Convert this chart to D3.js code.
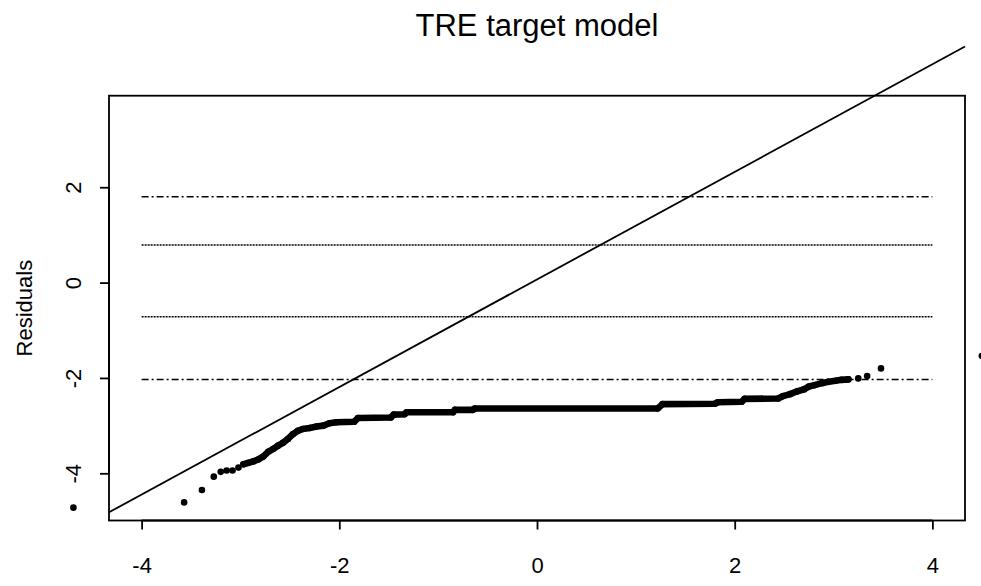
<!DOCTYPE html>
<html>
<head>
<meta charset="utf-8">
<script src="https://cdn.jsdelivr.net/npm/d3@7"></script>
<style>
	body { margin: 0; background: #fff; }
	svg { display: block; font-family: "Liberation Sans", Arial, sans-serif; }
</style>
</head>
<body>
<div id="chart"></div>
<script>
// theoretical quantiles / residuals (sorted)
// isolated points in the lower tail
const lowTailQ = [-4.69, -3.57, -3.39, -3.27, -3.20, -3.14, -3.08, -3.02];
const lowTailR = [-4.72, -4.61, -4.35, -4.07, -3.97, -3.94, -3.94, -3.88];
// the dense band of overlapping points
const bandQ = [-2.97, -2.92, -2.87, -2.82, -2.77, -2.72, -2.67, -2.62, -2.57, -2.52, -2.47, -2.42, -2.37,
	-2.30, -2.23, -2.16, -2.10, -2.03, -1.85, -1.81, -1.48, -1.45, -1.34, -1.32, -0.85, -0.83,
	-0.65, -0.63, 1.22, 1.27, 1.80, 1.83, 2.07, 2.10, 2.44, 2.49, 2.56, 2.62, 2.70, 2.75,
	2.81, 2.88, 2.95, 3.02, 3.08, 3.15];
const bandR = [-3.81, -3.78, -3.75, -3.71, -3.65, -3.55, -3.49, -3.42, -3.36, -3.28, -3.18, -3.11, -3.07,
	-3.05, -3.02, -3.00, -2.95, -2.93, -2.92, -2.84, -2.83, -2.77, -2.76, -2.72, -2.72, -2.67,
	-2.67, -2.64, -2.64, -2.55, -2.54, -2.51, -2.50, -2.44, -2.43, -2.38, -2.34, -2.29, -2.24, -2.18,
	-2.15, -2.11, -2.08, -2.06, -2.04, -2.03];
// isolated points in the upper tail
const highTailQ = [3.25, 3.34, 3.48, 4.50];
const highTailR = [-2.01, -1.96, -1.80, -1.54];

// horizontal reference lines
const refLevels = [1.80, 0.79, -0.715, -2.03];
const refStyles = ["dashdot", "dotted", "dotted", "dashdot"];
const refFrom = -4, refTo = 4;

// abline(a, b)
const ablineA = 0.066;
const ablineB = 1.128;

const xTicks = [-4, -2, 0, 2, 4];
const yTicks = [-4, -2, 0, 2];
const titleText = "TRE target model";
const yLabel = "Residuals";

const width = 981, height = 586;
const plot = { left: 109, right: 965, top: 95.7, bottom: 520.5 };
const font = "Liberation Sans, Arial, sans-serif";

const svg = d3.select("#chart").append("svg")
	.attr("width", width)
	.attr("height", height);

const x = d3.scaleLinear().domain([-4.33, 4.33]).range([plot.left, plot.right]);
const y = d3.scaleLinear().domain([-4.99, 3.92]).range([plot.bottom, plot.top]);

const dashes = { dashdot: "7,3,2,3", dotted: "2,1" };

// reference lines
svg.append("g").selectAll("line")
	.data(refLevels)
	.join("line")
	.attr("x1", x(refFrom))
	.attr("x2", x(refTo))
	.attr("y1", d => y(d))
	.attr("y2", d => y(d))
	.attr("stroke", "#000")
	.attr("stroke-width", 1.5)
	.attr("stroke-dasharray", (d, i) => dashes[refStyles[i]]);

// abline across the x range of the plot (not clipped vertically, like xpd=TRUE)
const xd = x.domain();
svg.append("line")
	.attr("x1", x(xd[0]))
	.attr("y1", y(ablineA + ablineB * xd[0]))
	.attr("x2", x(xd[1]))
	.attr("y2", y(ablineA + ablineB * xd[1]))
	.attr("stroke", "#000")
	.attr("stroke-width", 1.8);

// band: thick round path so the overlapping dots merge
const band = bandQ.map((q, i) => [q, bandR[i]]);
svg.append("path")
	.datum(band)
	.attr("d", d3.line().x(d => x(d[0])).y(d => y(d[1])))
	.attr("fill", "none")
	.attr("stroke", "#000")
	.attr("stroke-width", 6.6)
	.attr("stroke-linejoin", "round")
	.attr("stroke-linecap", "round");

const pts = lowTailQ.map((q, i) => [q, lowTailR[i]])
	.concat(band)
	.concat(highTailQ.map((q, i) => [q, highTailR[i]]));

svg.append("g").selectAll("circle")
	.data(pts)
	.join("circle")
	.attr("cx", d => x(d[0]))
	.attr("cy", d => y(d[1]))
	.attr("r", 3.3)
	.attr("fill", "#000");

// box
svg.append("rect")
	.attr("x", plot.left)
	.attr("y", plot.top)
	.attr("width", plot.right - plot.left)
	.attr("height", plot.bottom - plot.top)
	.attr("fill", "none")
	.attr("stroke", "#000")
	.attr("stroke-width", 1.8);

// axes
const xAxis = svg.append("g")
	.attr("transform", `translate(0,${ plot.bottom })`)
	.call(d3.axisBottom(x).tickValues(xTicks).tickSize(9).tickPadding(0).tickFormat(d => String(d)));
xAxis.select(".domain").attr("d", `M${ x(-4) },0H${ x(4) }`).attr("stroke-width", 1.8);
xAxis.selectAll(".tick line").attr("stroke-width", 1.8);
xAxis.selectAll(".tick text")
	.attr("y", 52)
	.attr("dy", null)
	.attr("font-size", 22)
	.attr("font-family", font)
	.attr("fill", "#000");

const yAxis = svg.append("g")
	.attr("transform", `translate(${ plot.left },0)`)
	.call(d3.axisLeft(y).tickValues(yTicks).tickSize(9).tickFormat(d => String(d)));
yAxis.select(".domain").attr("d", `M0,${ y(-4) }V${ y(2) }`).attr("stroke-width", 1.8);
yAxis.selectAll(".tick line").attr("stroke-width", 1.8);
yAxis.selectAll(".tick text")
	.attr("x", null)
	.attr("dy", null)
	.attr("text-anchor", "middle")
	.attr("transform", `translate(-28,0) rotate(-90)`)
	.attr("font-size", 22)
	.attr("font-family", font)
	.attr("fill", "#000");

// labels
svg.append("text")
	.attr("transform", `translate(31.5,${ (plot.top + plot.bottom) / 2 }) rotate(-90)`)
	.attr("text-anchor", "middle")
	.attr("font-size", 22)
	.text(yLabel);

svg.append("text")
	.attr("x", (plot.left + plot.right) / 2)
	.attr("y", 36)
	.attr("text-anchor", "middle")
	.attr("font-size", 31)
	.text(titleText);
</script>
</body>
</html>
